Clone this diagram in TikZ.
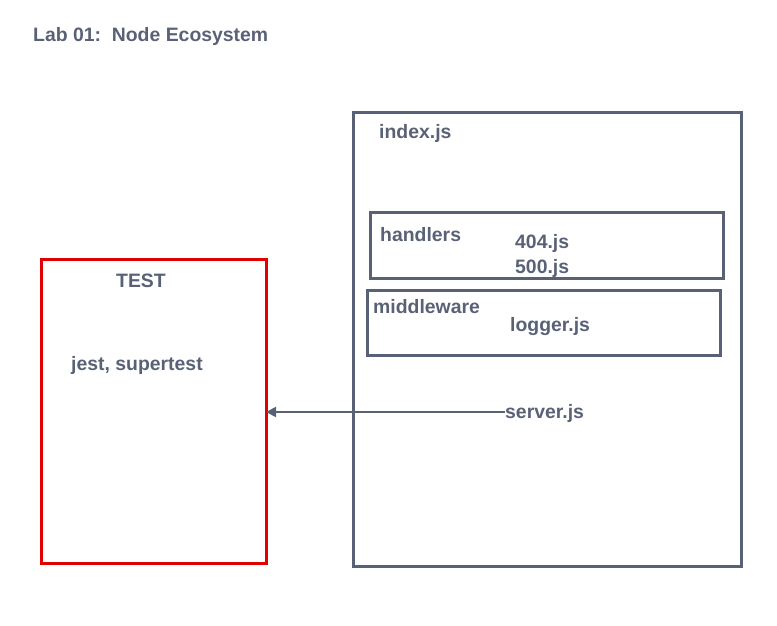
\documentclass[tikz,border=0pt]{standalone}
\usepackage{fontspec}
\setmainfont{Liberation Sans}
\usetikzlibrary{arrows.meta}
\definecolor{ink}{HTML}{596176}
\definecolor{redline}{HTML}{E00000}
\tikzset{
  lbl/.style={anchor=base west, inner sep=0pt, text=ink, font=\fontsize{19.4}{23}\selectfont\bfseries},
  frame/.style={draw=ink, line width=3pt, anchor=north west, inner sep=0pt, outer sep=0pt},
  testframe/.style={draw=redline, line width=3pt, anchor=north west, inner sep=0pt, outer sep=0pt},
  conn/.style={draw=ink, line width=1.8pt, -{Triangle[length=10pt,width=10pt]}}
}
\begin{document}
\begin{tikzpicture}[x=1pt,y=-1pt]
\useasboundingbox (0,0) rectangle (777,626);
% boxes
\node[frame, minimum width=388pt, minimum height=454pt] (index) at (353,112) {};
\node[frame, minimum width=353pt, minimum height=66pt] (handlers) at (370,212) {};
\node[frame, minimum width=353pt, minimum height=65pt] (middleware) at (367,290) {};
\node[testframe, minimum width=225pt, minimum height=304pt] (test) at (41,259) {};
% texts
\node[lbl] (title) at (33,42) {Lab 01:\ \ Node Ecosystem};
\node[lbl] (indexlbl) at (379,139) {index.js};
\node[lbl] (handlerslbl) at (380,241) {handlers};
\node[lbl] (f404) at (515,248) {404.js};
\node[lbl] (f500) at (515,273) {500.js};
\node[lbl] (mwlbl) at (373,313) {middleware};
\node[lbl] (logger) at (510,331) {logger.js};
\node[lbl] (testlbl) at (116,287) {TEST};
\node[lbl] (jest) at (71,370) {jest, supertest};
\node[lbl] (server) at (505,418) {server.js};
% connector
\coordinate (arrowstart) at ([yshift=1pt]server.west);
\draw[conn] (arrowstart) -- (arrowstart -| test.east);
\end{tikzpicture}
\end{document}
